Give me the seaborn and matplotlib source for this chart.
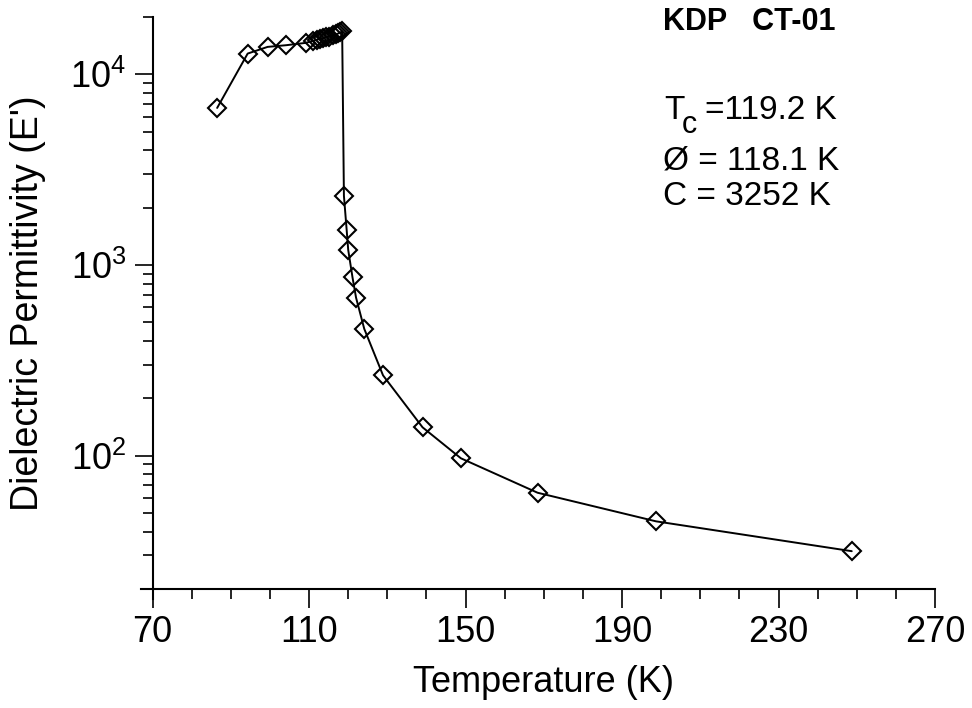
import matplotlib
matplotlib.use("Agg")
import matplotlib.pyplot as plt
import matplotlib.ticker as mticker
import seaborn as sns
import pandas as pd

# temperature (K) and dielectric permittivity
temperature = [86.5, 94.3, 99.4, 104.2, 109.1,
               111.0, 112.0, 112.8, 113.6, 114.4, 115.2, 116.0, 116.8, 117.5, 118.0, 118.45,
               118.9, 119.6, 120.0, 121.1, 122.0, 124.1, 128.9, 139.0, 148.8, 168.4, 198.7, 248.7]
permittivity = [6670, 12860, 13940, 14230, 14630,
                15000, 15200, 15400, 15500, 15700, 15800, 16000, 16200, 16400, 16600, 16800,
                2310, 1530, 1200, 861, 675, 463, 264, 141, 97, 64, 45.3, 31.6]

x_ticks = [70, 110, 150, 190, 230, 270]
sample_label = "KDP   CT-01"
tc_text = "=119.2 K"
phi_text = "Ø = 118.1 K"
c_text = "C = 3252 K"

df = pd.DataFrame({"T": temperature, "eps": permittivity})

sns.set_style("ticks")
plt.rcParams["font.family"] = ["Liberation Sans", "DejaVu Sans"]
plt.rcParams["mathtext.fontset"] = "custom"
plt.rcParams["mathtext.rm"] = "Liberation Sans"
plt.rcParams["mathtext.it"] = "Liberation Sans:italic"
plt.rcParams["mathtext.bf"] = "Liberation Sans:bold"
for key in ["text.color", "axes.labelcolor", "xtick.color", "ytick.color", "axes.edgecolor"]:
    plt.rcParams[key] = "black"

W, H = 972, 708
fig = plt.figure(figsize=(W / 100, H / 100), dpi=100)
ax = fig.add_axes([0.157, 0.168, 0.805, 0.808])

sns.lineplot(data=df, x="T", y="eps", ax=ax, color="black", linewidth=1.4,
             marker="D", markersize=9, markerfacecolor="none",
             markeredgecolor="black", markeredgewidth=1.5, sort=False)

ax.set_yscale("log")
ax.set_xlim(70, 270)
ax.set_ylim(20, 20000)

ax.set_xticks(x_ticks)
ax.xaxis.set_minor_locator(mticker.MultipleLocator(10))
ax.yaxis.set_major_locator(mticker.LogLocator(base=10, numticks=10))
ax.yaxis.set_minor_locator(mticker.LogLocator(base=10, subs=range(2, 10), numticks=10))
ax.yaxis.set_minor_formatter(mticker.NullFormatter())

sns.despine(ax=ax)
for side in ["left", "bottom"]:
    ax.spines[side].set_linewidth(1.5)
ax.spines["bottom"].set_bounds(67, 270)
ax.spines["left"].set_bounds(17.8, 20000)

ax.tick_params(axis="x", which="major", direction="out", length=14, width=1.2,
               labelsize=26, pad=5)
ax.tick_params(axis="x", which="minor", direction="out", length=7, width=1.2)
ax.tick_params(axis="y", which="major", direction="out", length=13, width=1.2,
               labelsize=26, pad=6)
ax.tick_params(axis="y", which="minor", direction="out", length=7, width=1.2)

ax.set_xlabel("Temperature (K)", fontsize=26)
ax.set_ylabel("Dielectric Permittivity (E')", fontsize=27)
ax.xaxis.set_label_coords(0.5, -0.132)
ax.yaxis.set_label_coords(-0.136, 0.5)
ax.grid(False)

def px(x, y):
    return x / W, 1 - y / H

fig.text(*px(663, 22), sample_label, fontsize=22, fontweight="bold", va="center", ha="left")
fig.text(*px(664, 119), "T", fontsize=24, va="baseline", ha="left")
fig.text(*px(682, 133), "c", fontsize=22, va="baseline", ha="left")
fig.text(*px(705, 119), tc_text, fontsize=24, va="baseline", ha="left")
fig.text(*px(663, 170), phi_text, fontsize=24, va="baseline", ha="left")
fig.text(*px(663, 205), c_text, fontsize=24, va="baseline", ha="left")

fig.savefig("out.png", dpi=100)
